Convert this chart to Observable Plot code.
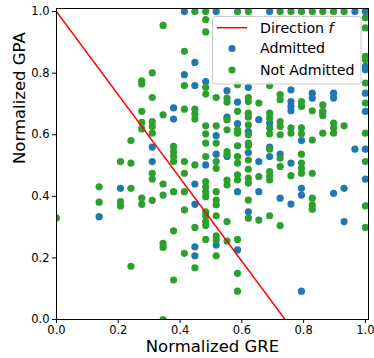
<!DOCTYPE html>
<html><head><meta charset="utf-8">
<script src="https://cdn.jsdelivr.net/npm/d3@7"></script>
<script src="https://cdn.jsdelivr.net/npm/@observablehq/plot@0.6"></script>
<style>body{margin:0;background:#fff;} svg{font-family:"DejaVu Sans",sans-serif;}</style>
</head><body><div id="chart"></div>
<script>
// [normalized GRE, normalized GPA]
const admitted = [
  [0.138,0.334],[0.207,0.426],[0.310,0.560],[0.310,0.513],[0.379,0.687],[0.379,0.651],
  [0.414,1.0],[0.414,0.795],
  [0.448,0.835],[0.448,0.760],[0.448,0.440],[0.448,0.374],[0.448,0.236],[0.448,0.207],
  [0.483,0.773],[0.483,0.502],
  [0.517,1.0],[0.517,0.597],[0.517,0.537],[0.517,0.242],
  [0.552,0.743],[0.552,0.657],[0.552,0.529],
  [0.586,0.706],[0.586,0.636],[0.586,0.415],[0.586,0.226],
  [0.621,0.754],[0.621,0.610],[0.621,0.542],[0.621,0.350],
  [0.655,0.649],[0.655,0.513],[0.655,0.415],
  [0.690,1.0],[0.690,0.638],[0.690,0.560],[0.690,0.529],
  [0.724,0.537],[0.724,0.394],
  [0.759,0.746],[0.759,0.708],[0.759,0.692],[0.759,0.678],[0.759,0.508],[0.759,0.375],
  [0.793,0.581],[0.793,0.426],[0.793,0.404],[0.793,0.092],
  [0.828,0.735],[0.828,0.719],
  [0.862,0.674],
  [0.897,0.735],[0.897,0.719],[0.897,0.410],
  [0.931,0.426],[0.931,0.318],
  [0.966,1.0],[0.966,0.553],
  [1.0,1.0],[1.0,0.822],[1.0,0.811],[1.0,0.735],[1.0,0.676],[1.0,0.553],[1.0,0.456]
];
const notAdmitted = [
  [0,0.33],
  [0.138,0.431],[0.138,0.381],
  [0.207,0.513],[0.207,0.383],[0.207,0.369],
  [0.241,0.581],[0.241,0.508],[0.241,0.426],[0.241,0.173],
  [0.276,0.775],[0.276,0.765],[0.276,0.676],[0.276,0.640],[0.276,0.619],[0.276,0.394],[0.276,0.374],
  [0.310,0.801],[0.310,0.721],[0.310,0.643],[0.310,0.627],[0.310,0.605],[0.310,0.475],[0.310,0.456],[0.310,0.387],
  [0.345,0.955],[0.345,0.665],[0.345,0.440],[0.345,0.404],[0.345,0.247],[0.345,0.234],[0.345,0.0],
  [0.379,0.562],[0.379,0.545],[0.379,0.529],[0.379,0.513],[0.379,0.415],[0.379,0.288],[0.379,0.128],
  [0.414,0.871],[0.414,0.760],[0.414,0.683],[0.414,0.513],[0.414,0.475],[0.414,0.415],[0.414,0.356],[0.414,0.215],
  [0.448,1.0],[0.448,0.683],[0.448,0.667],[0.448,0.651],[0.448,0.502],[0.448,0.299],[0.448,0.168],
  [0.483,1.0],[0.483,0.974],[0.483,0.934],[0.483,0.754],[0.483,0.732],[0.483,0.629],[0.483,0.603],[0.483,0.573],
  [0.483,0.529],[0.483,0.448],[0.483,0.431],[0.483,0.415],[0.483,0.399],[0.483,0.350],[0.483,0.336],[0.483,0.318],
  [0.483,0.305],[0.483,0.260],
  [0.517,0.721],[0.517,0.629],[0.517,0.573],[0.517,0.513],[0.517,0.491],[0.517,0.415],[0.517,0.388],[0.517,0.372],
  [0.517,0.337],[0.517,0.272],[0.517,0.258],[0.517,0.207],
  [0.552,0.719],[0.552,0.706],[0.552,0.649],[0.552,0.616],[0.552,0.545],[0.552,0.535],[0.552,0.453],[0.552,0.437],
  [0.552,0.318],[0.552,0.255],
  [0.586,1.0],[0.586,0.762],[0.586,0.676],[0.586,0.616],[0.586,0.605],[0.586,0.564],[0.586,0.529],[0.586,0.508],
  [0.586,0.470],[0.586,0.453],[0.586,0.260],[0.586,0.150],[0.586,0.092],
  [0.621,1.0],[0.621,0.721],[0.621,0.708],[0.621,0.670],[0.621,0.657],[0.621,0.632],[0.621,0.600],[0.621,0.573],
  [0.621,0.564],[0.621,0.518],[0.621,0.488],[0.621,0.459],[0.621,0.443],[0.621,0.388],[0.621,0.329],
  [0.655,0.703],[0.655,0.464],[0.655,0.323],
  [0.690,0.760],[0.690,0.670],[0.690,0.654],[0.690,0.622],[0.690,0.603],[0.690,0.553],[0.690,0.480],[0.690,0.466],
  [0.690,0.453],[0.690,0.337],
  [0.724,1.0],[0.724,0.730],[0.724,0.714],[0.724,0.643],[0.724,0.627],[0.724,0.600],[0.724,0.524],[0.724,0.497],[0.724,0.305],
  [0.759,1.0],[0.759,0.622],[0.759,0.605],[0.759,0.467],
  [0.793,1.0],[0.793,0.708],[0.793,0.692],[0.793,0.622],[0.793,0.603],[0.793,0.537],[0.793,0.508],[0.793,0.491],[0.793,0.475],
  [0.828,1.0],[0.828,0.678],[0.828,0.583],[0.828,0.475],[0.828,0.394],[0.828,0.372],[0.828,0.358],
  [0.862,1.0],[0.862,0.697],[0.862,0.676],[0.862,0.662],[0.862,0.605],
  [0.897,1.0],[0.897,0.638],[0.897,0.622],[0.897,0.605],
  [0.931,1.0],[0.931,0.629],
  [1.0,0.98],[1.0,0.947],[1.0,0.855],[1.0,0.844],[1.0,0.768],[1.0,0.703],[1.0,0.605],[1.0,0.513],[1.0,0.369],[1.0,0.299]
];
const directionGRE = [0, 0.74];
const directionGPA = [1.0, 0];
const xTicks = [0, 0.2, 0.4, 0.6, 0.8, 1.0];
const yTicks = [0, 0.2, 0.4, 0.6, 0.8, 1.0];
const legendLabels = ["Direction ", "Admitted", "Not Admitted"];
const colors = {admitted: "#1f77b4", notAdmitted: "#2ca02c", direction: "#ff0000"};

const adm = admitted.map(([gre, gpa]) => ({gre, gpa}));
const rej = notAdmitted.map(([gre, gpa]) => ({gre, gpa}));
const dir = directionGRE.map((g, i) => ({gre: g, gpa: directionGPA[i]}));

const svg = Plot.plot({
  width: 374, height: 358,
  marginLeft: 56, marginRight: 6, marginTop: 8, marginBottom: 39,
  style: {fontFamily: "DejaVu Sans, sans-serif", fontSize: "11.5px", color: "#000", background: "#fff"},
  x: {domain: [0, 1.01], label: null},
  y: {domain: [0, 1.01], label: null},
  marks: [
    Plot.dot(adm, {x: "gre", y: "gpa", r: 3.6, fill: colors.admitted, stroke: "none", clip: true}),
    Plot.dot(rej, {x: "gre", y: "gpa", r: 3.6, fill: colors.notAdmitted, stroke: "none", clip: true}),
    Plot.line(dir, {x: "gre", y: "gpa", stroke: colors.direction, strokeWidth: 1.5, clip: true}),
    Plot.frame({stroke: "#000", strokeWidth: 1}),
    Plot.axisX({ticks: xTicks, tickFormat: d3.format(".1f"), tickSize: 4, tickPadding: 2, label: null, fontSize: 11.5}),
    Plot.axisY({ticks: yTicks, tickFormat: d3.format(".1f"), tickSize: 4, tickPadding: 3, label: null, fontSize: 11.5}),
    Plot.text(["Normalized GRE"], {frameAnchor: "bottom", dy: 32, fontSize: 16.5, fill: "#000"}),
    Plot.text(["Normalized GPA"], {frameAnchor: "left", dx: -37, rotate: -90, fontSize: 16.5, fill: "#000"})
  ]
});

// Legend (matplotlib-style box)
const g = d3.select(svg).append("g")
  .attr("font-family", "DejaVu Sans, sans-serif").attr("font-size", 14.2).attr("text-anchor", "start");
g.append("rect").attr("x", 212.5).attr("y", 16.5).attr("width", 148.5).attr("height", 67.5)
  .attr("rx", 3).attr("fill", "#fff").attr("fill-opacity", 0.8).attr("stroke", "#cccccc").attr("stroke-width", 1);
g.append("line").attr("x1", 217).attr("x2", 247).attr("y1", 27.7).attr("y2", 27.7)
  .attr("stroke", colors.direction).attr("stroke-width", 1.5);
g.append("circle").attr("cx", 232).attr("cy", 48.5).attr("r", 3.6).attr("fill", colors.admitted);
g.append("circle").attr("cx", 232).attr("cy", 70).attr("r", 3.6).attr("fill", colors.notAdmitted);
const t0 = g.append("text").attr("x", 260).attr("y", 28.3).attr("dy", "0.35em").attr("fill", "#000");
t0.append("tspan").text(legendLabels[0]);
t0.append("tspan").attr("font-style", "italic").text("f");
g.append("text").attr("x", 260).attr("y", 48.5).attr("dy", "0.35em").attr("fill", "#000").text(legendLabels[1]);
g.append("text").attr("x", 260).attr("y", 70).attr("dy", "0.35em").attr("fill", "#000").text(legendLabels[2]);

document.getElementById("chart").appendChild(svg);
</script>
</body></html>
